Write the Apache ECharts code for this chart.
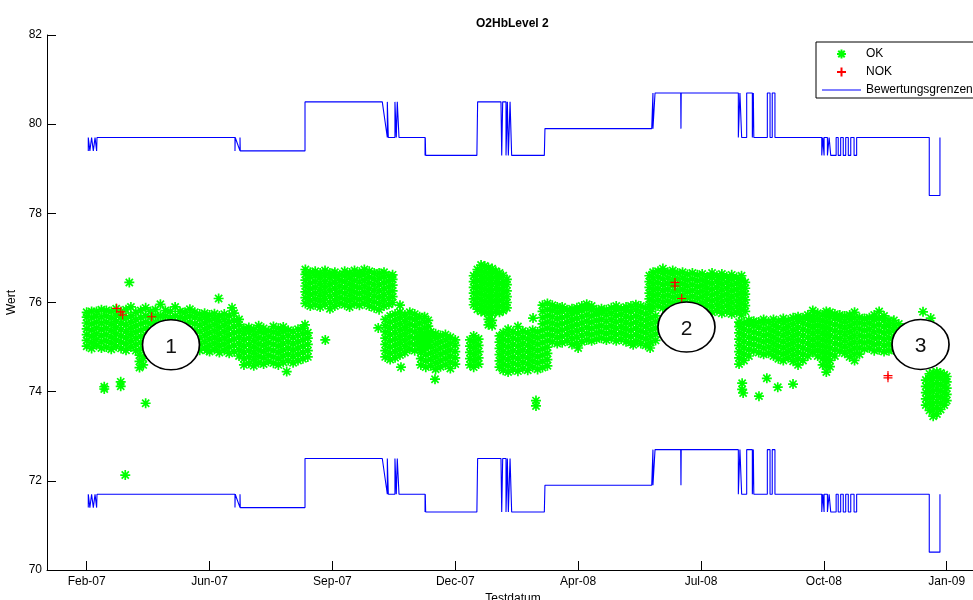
<!DOCTYPE html>
<html>
<head>
<meta charset="utf-8">
<script src="https://cdn.jsdelivr.net/npm/echarts@6/dist/echarts.min.js"></script>
<style>html,body{margin:0;padding:0;background:#fff}#c{width:973px;height:600px}</style>
</head>
<body>
<div id="c"></div>
<script>
// x values: day number minus 733000 (MATLAB datenum); ticks every 100 days
const FONT = '"Liberation Sans", Arial, Helvetica, sans-serif';
const tickDays = [100, 200, 300, 400, 500, 600, 700, 800];
const tickLabels = ['Feb-07', 'Jun-07', 'Sep-07', 'Dec-07', 'Apr-08', 'Jul-08', 'Oct-08', 'Jan-09'];
const xMin = 67.7, xMax = 821.4;
const yMin = 70, yMax = 82, yStep = 2;

// Bewertungsgrenzen (upper / lower limit), step lines
const limitDays = [101.3,101.3,102.6,102.6,104.0,104.0,105.4,105.4,106.8,106.8,108.1,108.1,108.4,108.4,
  156.2,193.0,220.7,220.7,220.9,224.8,224.8,225.0,277.7,277.7,
  340.6,344.7,344.7,345.5,345.5,350.9,350.9,352.0,352.0,352.8,352.8,354.2,354.2,
  375.4,375.4,375.6,375.9,417.6,418.2,
  437.2,437.8,438.6,438.6,441.3,441.3,442.4,442.4,443.2,443.2,444.6,444.6,445.9,445.9,
  472.5,473.0,559.9,560.9,560.9,562.0,562.6,583.5,583.7,583.9,
  630.4,630.4,631.7,631.7,633.1,633.1,637.2,637.2,641.8,641.8,642.6,642.6,643.0,643.0,654.0,654.0,656.2,656.2,658.0,658.0,660.2,660.2,
  698.3,698.3,699.1,700.2,700.2,702.9,702.9,704.3,704.3,705.6,705.6,710.0,710.0,711.7,711.7,713.7,713.7,715.8,715.8,717.8,717.8,719.9,719.9,721.9,721.9,724.6,724.6,726.7,726.7,
  785.8,785.8,794.5,794.5];
const upperLimit = [79.4,79.7,79.7,79.4,79.4,79.7,79.7,79.4,79.4,79.7,79.7,79.4,79.4,79.7,
  79.7,79.7,79.7,79.4,79.7,79.4,79.7,79.4,79.4,80.5,
  80.5,79.7,80.5,80.5,79.7,79.7,80.5,80.5,79.7,79.7,80.5,80.5,79.7,
  79.7,79.3,79.7,79.3,79.3,80.5,
  80.5,79.3,79.3,80.5,80.5,79.3,79.3,80.5,80.5,79.3,79.3,80.5,80.5,79.3,
  79.3,79.9,79.9,80.7,79.9,79.9,80.7,80.7,79.9,80.7,
  80.7,79.7,79.7,80.7,80.7,79.7,79.7,80.7,80.7,79.7,79.7,80.7,80.7,79.7,79.7,80.7,80.7,79.7,79.7,80.7,80.7,79.7,
  79.7,79.3,79.7,79.3,79.7,79.7,79.3,79.3,79.7,79.7,79.3,79.3,79.7,79.7,79.3,79.3,79.7,79.7,79.3,79.3,79.7,79.7,79.3,79.3,79.7,79.7,79.3,79.3,79.7,
  79.7,78.4,78.4,79.7];
const lowerLimit = [71.4,71.7,71.7,71.4,71.4,71.7,71.7,71.4,71.4,71.7,71.7,71.4,71.4,71.7,
  71.7,71.7,71.7,71.4,71.7,71.4,71.7,71.4,71.4,72.5,
  72.5,71.7,72.5,72.5,71.7,71.7,72.5,72.5,71.7,71.7,72.5,72.5,71.7,
  71.7,71.3,71.7,71.3,71.3,72.5,
  72.5,71.3,71.3,72.5,72.5,71.3,71.3,72.5,72.5,71.3,71.3,72.5,72.5,71.3,
  71.3,71.9,71.9,72.7,71.9,71.9,72.7,72.7,71.9,72.7,
  72.7,71.7,71.7,72.7,72.7,71.7,71.7,72.7,72.7,71.7,71.7,72.7,72.7,71.7,71.7,72.7,72.7,71.7,71.7,72.7,72.7,71.7,
  71.7,71.3,71.7,71.3,71.7,71.7,71.3,71.3,71.7,71.7,71.3,71.3,71.7,71.7,71.3,71.3,71.7,71.7,71.3,71.3,71.7,71.7,71.3,71.3,71.7,71.7,71.3,71.3,71.7,
  71.7,70.4,70.4,71.7];

// OK measurements, read column by column: [day, values...]
const okFeb07 = [
  [100,75.02,75.15,75.28,75.41,75.54,75.67,75.78],[104,74.97,75.1,75.24,75.38,75.52,75.66,75.8],
  [108,75.04,75.17,75.3,75.43,75.56,75.69,75.8],[112,74.98,75.12,75.26,75.4,75.54,75.68,75.84],
  [116,75.0,75.14,75.28,75.42,75.56,75.7,75.82],[120,74.95,75.09,75.23,75.37,75.51,75.65,75.8],
  [124,75.02,75.16,75.3,75.44,75.58,75.72,75.86],[128,74.97,75.11,75.25,75.39,75.53,75.67,75.8],
  [132,74.93,75.07,75.21,75.35,75.5,75.65,75.84],[136,75.0,75.14,75.28,75.42,75.56,75.7,75.9],
  [140,74.92,75.06,75.2,75.34,75.48,75.62,75.78],[144,74.96,75.1,75.24,75.38,75.52,75.66,75.82],
  [148,75.0,75.14,75.28,75.42,75.56,75.7,75.88],[152,74.97,75.11,75.25,75.39,75.53,75.67,75.8],
  [156,75.0,75.14,75.28,75.42,75.56,75.7,75.84],[160,74.95,75.1,75.25,75.4,75.55,75.7,75.96],
  [164,75.0,75.14,75.28,75.42,75.56,75.7,75.82],[168,74.96,75.1,75.24,75.38,75.52,75.66,75.8],
  [172,75.0,75.14,75.28,75.42,75.56,75.7,75.9],[176,74.97,75.11,75.25,75.39,75.53,75.67,75.8],
  [180,74.95,75.09,75.23,75.37,75.51,75.65,75.78],[184,75.0,75.14,75.28,75.42,75.56,75.7,75.85],
  [188,74.96,75.1,75.24,75.38,75.52,75.66,75.78],[192,74.93,75.07,75.21,75.35,75.49,75.63,75.74],
  [196,74.98,75.12,75.26,75.4,75.54,75.66,75.76],[200,74.9,75.04,75.18,75.32,75.46,75.6,75.72],
  [204,74.95,75.09,75.23,75.37,75.51,75.64,75.75],[208,74.88,75.02,75.16,75.3,75.44,75.58,75.7],
  [212,74.93,75.07,75.21,75.35,75.49,75.62,75.74],[216,74.86,75.0,75.14,75.28,75.42,75.56,75.7],
  [220,74.9,75.04,75.18,75.32,75.46,75.6,75.76],[224,74.8,74.94,75.08,75.22,75.36,75.5,75.62]
];
const okJun07 = [
  [228,74.6,74.74,74.88,75.02,75.16,75.3,75.42],[232,74.64,74.78,74.92,75.06,75.2,75.34,75.44],
  [236,74.58,74.72,74.86,75.0,75.14,75.28,75.4],[240,74.65,74.79,74.93,75.07,75.21,75.35,75.48],
  [244,74.62,74.76,74.9,75.04,75.18,75.32,75.42],[248,74.68,74.82,74.96,75.1,75.24,75.36],
  [252,74.64,74.78,74.92,75.06,75.2,75.34,75.46],[256,74.6,74.74,74.88,75.02,75.16,75.3,75.42],
  [260,74.66,74.8,74.94,75.08,75.22,75.36,75.45],[264,74.7,74.84,74.98,75.12,75.26,75.38],
  [268,74.65,74.79,74.93,75.07,75.21,75.35],[272,74.7,74.84,74.98,75.12,75.26,75.4],
  [276,74.74,74.88,75.02,75.16,75.3,75.42],[280,74.78,74.92,75.06,75.2,75.32]
];
const okSep07 = [
  [278,75.98,76.11,76.24,76.37,76.5,76.63,76.74],[282,75.92,76.05,76.18,76.31,76.44,76.57,76.68],
  [286,75.95,76.08,76.21,76.34,76.47,76.6,76.7],[290,75.9,76.03,76.16,76.29,76.42,76.55,76.66],
  [294,75.96,76.09,76.22,76.35,76.48,76.61,76.72],[298,75.86,76.0,76.14,76.28,76.42,76.56,76.66],
  [302,75.92,76.05,76.18,76.31,76.44,76.57,76.68],[306,75.98,76.11,76.24,76.37,76.5,76.62],
  [310,75.95,76.08,76.21,76.34,76.47,76.6,76.7],[314,75.9,76.03,76.16,76.29,76.42,76.55,76.66],
  [318,75.97,76.1,76.23,76.36,76.49,76.62,76.72],[322,75.94,76.07,76.2,76.33,76.46,76.59,76.68],
  [326,75.98,76.11,76.24,76.37,76.5,76.63,76.74],[330,75.92,76.05,76.18,76.31,76.44,76.57,76.7],
  [334,75.88,76.01,76.14,76.27,76.4,76.53,76.66],[338,75.84,75.98,76.12,76.26,76.4,76.54,76.66],
  [342,75.92,76.05,76.18,76.31,76.44,76.57,76.68],[346,75.96,76.09,76.22,76.35,76.48,76.6],
  [349,76.0,76.13,76.26,76.39,76.52,76.62]
];
const okOct07 = [
  [343,74.78,74.92,75.06,75.2,75.34,75.48,75.62],[347,74.72,74.86,75.0,75.14,75.28,75.42,75.56,75.7],
  [351,74.76,74.9,75.04,75.18,75.32,75.46,75.6,75.74],[355,74.82,74.96,75.1,75.24,75.38,75.52,75.66,75.78],
  [359,74.88,75.02,75.16,75.3,75.44,75.58,75.72],[363,74.95,75.09,75.23,75.37,75.51,75.65,75.78],
  [367,74.92,75.06,75.2,75.34,75.48,75.62,75.74],[371,74.98,75.12,75.26,75.4,75.54,75.68],
  [375,75.0,75.14,75.28,75.42,75.56,75.68],[378,75.05,75.19,75.33,75.47,75.6]
];
const okNov07 = [
  [372,74.6,74.74,74.88,75.02,75.16,75.28],[376,74.55,74.69,74.83,74.97,75.11,75.25],
  [380,74.58,74.72,74.86,75.0,75.14,75.28,75.34],[384,74.5,74.64,74.78,74.92,75.06,75.2,75.3],
  [388,74.56,74.7,74.84,74.98,75.12,75.26],[392,74.6,74.74,74.88,75.02,75.16,75.28],
  [396,74.52,74.66,74.8,74.94,75.08,75.22],[400,74.62,74.76,74.9,75.04,75.16],
  [412,74.6,74.74,74.88,75.02,75.16],[415,74.55,74.69,74.83,74.97,75.11,75.25],
  [419,74.62,74.76,74.9,75.04,75.18]
];
const okJan08 = [
  [415,75.95,76.08,76.21,76.34,76.47,76.6],[418,75.85,75.98,76.11,76.24,76.37,76.5,76.63,76.74],
  [421,75.8,75.93,76.06,76.19,76.32,76.45,76.58,76.71,76.84],[424,75.78,75.91,76.04,76.17,76.3,76.43,76.56,76.69,76.82],
  [427,75.5,75.62,75.76,75.89,76.02,76.15,76.28,76.41,76.54,76.67,76.78],[430,75.48,75.6,75.75,75.88,76.01,76.14,76.27,76.4,76.53,76.66,76.76],
  [433,75.8,75.93,76.06,76.19,76.32,76.45,76.58,76.7],[436,75.78,75.91,76.04,76.17,76.3,76.43,76.56,76.66],
  [439,75.82,75.95,76.08,76.21,76.34,76.47,76.6],[442,75.88,76.0,76.13,76.26,76.4,76.52]
];
const okFeb08 = [
  [436,74.55,74.69,74.83,74.97,75.11,75.25],[439,74.48,74.62,74.76,74.9,75.04,75.18,75.32],
  [443,74.44,74.58,74.72,74.86,75.0,75.14,75.28,75.4],[447,74.5,74.64,74.78,74.92,75.06,75.2,75.34],
  [451,74.46,74.6,74.74,74.88,75.02,75.16,75.3,75.46],[455,74.52,74.66,74.8,74.94,75.08,75.22,75.36],
  [459,74.48,74.62,74.76,74.9,75.04,75.18,75.32],[463,74.55,74.69,74.83,74.97,75.11,75.25,75.38],
  [467,74.5,74.64,74.78,74.92,75.06,75.2,75.34],[471,74.54,74.68,74.82,74.96,75.1,75.24,75.38,75.52,75.66,75.8,75.94],
  [475,74.58,74.72,74.86,75.0,75.14,75.28,75.42,75.56,75.7,75.84,75.98]
];
const okApr08 = [
  [479,75.12,75.26,75.4,75.54,75.68,75.82,75.94],[483,75.08,75.22,75.36,75.5,75.64,75.78,75.9],
  [487,75.1,75.24,75.38,75.52,75.66,75.8,75.9],[491,75.14,75.28,75.42,75.56,75.7,75.84],
  [495,75.06,75.2,75.34,75.48,75.62,75.76,75.86],[499,75.08,75.22,75.36,75.5,75.64,75.78,75.88],
  [503,75.12,75.26,75.4,75.54,75.68,75.82,75.92],[507,75.16,75.3,75.44,75.58,75.72,75.86,75.96],
  [511,75.14,75.28,75.42,75.56,75.7,75.84,75.92],[515,75.18,75.32,75.46,75.6,75.74,75.84],
  [519,75.2,75.34,75.48,75.62,75.76,75.86],[523,75.16,75.3,75.44,75.58,75.72,75.84],
  [527,75.2,75.34,75.48,75.62,75.76,75.88],[531,75.14,75.28,75.42,75.56,75.7,75.84,75.92],
  [535,75.18,75.32,75.46,75.6,75.74,75.86],[539,75.12,75.26,75.4,75.54,75.68,75.82,75.9],
  [543,75.1,75.24,75.38,75.52,75.66,75.8,75.92],[547,75.14,75.28,75.42,75.56,75.7,75.84,75.95],
  [551,75.08,75.22,75.36,75.5,75.64,75.78,75.92],[555,75.04,75.18,75.32,75.46,75.6,75.74,75.88],
  [559,75.1,75.24,75.38,75.52,75.66,75.8],[563,75.15,75.29,75.43,75.57,75.7]
];
const okJun08 = [
  [558,75.95,76.08,76.21,76.34,76.47,76.6],[561,75.9,76.03,76.16,76.29,76.42,76.55,76.68],
  [565,75.92,76.05,76.18,76.31,76.44,76.57,76.7],[569,75.88,76.01,76.14,76.27,76.4,76.53,76.66,76.76],
  [573,75.9,76.03,76.16,76.29,76.42,76.55,76.68],[577,75.86,75.99,76.12,76.25,76.38,76.51,76.64,76.72],
  [581,75.88,76.01,76.14,76.27,76.4,76.53,76.66],[585,75.9,76.03,76.16,76.29,76.42,76.55,76.68],
  [589,75.85,75.98,76.11,76.24,76.37,76.5,76.63],[593,75.88,76.01,76.14,76.27,76.4,76.53,76.66],
  [597,75.84,75.97,76.1,76.23,76.36,76.49,76.62],[601,75.86,75.99,76.12,76.25,76.38,76.51,76.64],
  [605,75.8,75.93,76.06,76.19,76.32,76.45,76.58],[609,75.78,75.91,76.04,76.17,76.3,76.43,76.56,76.66],
  [613,75.82,75.95,76.08,76.21,76.34,76.47,76.6],[617,75.76,75.89,76.02,76.15,76.28,76.41,76.54,76.64],
  [621,75.8,75.93,76.06,76.19,76.32,76.45,76.58],[625,75.74,75.87,76.0,76.13,76.26,76.39,76.52,76.62],
  [629,75.78,75.91,76.04,76.17,76.3,76.43,76.56],[633,75.72,75.85,75.98,76.11,76.24,76.37,76.5,76.6],
  [636,75.8,75.93,76.06,76.19,76.32,76.45]
];
const okAug08 = [
  [631,74.62,74.76,74.9,75.04,75.18,75.32,75.46,75.56],[635,74.7,74.84,74.98,75.12,75.26,75.4,75.54],
  [639,74.8,74.94,75.08,75.22,75.36,75.5,75.6],[643,74.92,75.06,75.2,75.34,75.48,75.58],
  [647,74.88,75.02,75.16,75.3,75.44,75.56],[651,74.84,74.98,75.12,75.26,75.4,75.54,75.62],
  [655,74.86,75.0,75.14,75.28,75.42,75.56],[659,74.8,74.94,75.08,75.22,75.36,75.5,75.62],
  [663,74.74,74.88,75.02,75.16,75.3,75.44,75.58],[667,74.7,74.84,74.98,75.12,75.26,75.4,75.54,75.64],
  [671,74.76,74.9,75.04,75.18,75.32,75.46,75.6],[675,74.68,74.82,74.96,75.1,75.24,75.38,75.52,75.66],
  [679,74.6,74.74,74.88,75.02,75.16,75.3,75.44,75.58,75.68],[683,74.7,74.84,74.98,75.12,75.26,75.4,75.54,75.66],
  [687,74.8,74.94,75.08,75.22,75.36,75.5,75.64,75.72],[691,74.88,75.02,75.16,75.3,75.44,75.58,75.7,75.82],
  [695,74.8,74.94,75.08,75.22,75.36,75.5,75.64,75.76],[699,74.6,74.74,74.88,75.02,75.16,75.3,75.44,75.58,75.72],
  [702,74.44,74.58,74.72,74.86,75.0,75.14,75.28,75.42,75.56,75.7,75.8],[705,74.56,74.7,74.84,74.98,75.12,75.26,75.4,75.54,75.68,75.78],
  [709,74.8,74.94,75.08,75.22,75.36,75.5,75.64,75.74],[713,74.92,75.06,75.2,75.34,75.48,75.62,75.72],
  [717,74.86,75.0,75.14,75.28,75.42,75.56,75.7],[721,74.78,74.92,75.06,75.2,75.34,75.48,75.62,75.72],
  [725,74.7,74.84,74.98,75.12,75.26,75.4,75.54,75.66,75.78],[729,74.84,74.98,75.12,75.26,75.4,75.54,75.66],
  [733,74.96,75.1,75.24,75.38,75.52,75.64],[737,74.98,75.12,75.26,75.4,75.54,75.66],
  [741,74.92,75.06,75.2,75.34,75.48,75.62,75.72],[745,74.94,75.08,75.22,75.36,75.5,75.64,75.8],
  [749,74.9,75.04,75.18,75.32,75.46,75.6,75.7],[753,74.92,75.06,75.2,75.34,75.48,75.6],
  [757,74.94,75.08,75.22,75.36,75.48,75.6],[761,74.98,75.12,75.26,75.4,75.52],
  [764,75.0,75.14,75.28,75.4]
];
const okDec08 = [
  [783,73.7,73.84,73.98,74.12,74.26],[786,73.58,73.72,73.86,74.0,74.14,74.28,74.4],
  [789,73.45,73.59,73.73,73.87,74.01,74.15,74.29,74.42],[792,73.5,73.64,73.78,73.92,74.06,74.2,74.34,74.44],
  [795,73.6,73.74,73.88,74.02,74.16,74.3,74.42],[798,73.7,73.84,73.98,74.12,74.26,74.38],
  [800,73.8,73.94,74.08,74.22,74.34]
];
// isolated OK points
const okSingleDays = [114.3,114.3,127.7,127.7,148,134.7,131.4,143,143,143,146,146,197.9,207.4,218.3,262.8,277.7,294.2,
  337.3,355,355.8,383.5,465.7,465.7,463.3,500,544.8,558.6,633.5,633.5,634.3,647.2,653.6,662.5,674.9,780.7,787];
const okSingleVals = [74.11,74.06,74.22,74.12,73.74,76.45,72.13,74.82,74.68,74.54,74.75,74.6,74.93,76.09,75.88,74.45,75.5,75.16,
  75.43,75.94,74.55,74.28,73.8,73.68,75.65,74.98,75.05,74.98,74.19,74.05,73.97,73.9,74.3,74.1,74.17,75.79,75.65];

// NOK points
const nokDays = [124.4, 127.7, 129.3, 152.9, 578.8, 578.8, 584.3, 752.2, 752.2];
const nokVals = [75.87, 75.79, 75.72, 75.68, 76.45, 76.37, 76.09, 74.36, 74.31];

// circled annotations
const noteDays = [168.6, 588.2, 778.7];
const noteVals = [75.05, 75.45, 75.06];
const noteLabels = ['1', '2', '3'];

function columnsToPoints(cols) {
  const out = [];
  cols.forEach(c => { for (let i = 1; i < c.length; i++) out.push([c[0], c[i]]); });
  return out;
}
const okPoints = [okFeb07, okJun07, okSep07, okOct07, okNov07, okJan08, okFeb08, okApr08, okJun08, okAug08, okDec08]
  .reduce((acc, cols) => acc.concat(columnsToPoints(cols)), [])
  .concat(okSingleDays.map((d, i) => [d, okSingleVals[i]]));
const nokPoints = nokDays.map((d, i) => [d, nokVals[i]]);
const upperPoints = limitDays.map((d, i) => [d, upperLimit[i]]);
const lowerPoints = limitDays.map((d, i) => [d, lowerLimit[i]]);
const notePoints = noteDays.map((d, i) => [d, noteVals[i]]);

const STAR = 'path://M0,-5L0,5M-5,0L5,0M-3.6,-3.6L3.6,3.6M-3.6,3.6L3.6,-3.6';
const PLUS = 'path://M0,-5L0,5M-5,0L5,0';
const ELLIPSE = 'path://M0,-1C0.552,-1,1,-0.552,1,0C1,0.552,0.552,1,0,1C-0.552,1,-1,0.552,-1,0C-1,-0.552,-0.552,-1,0,-1Z';
const LINE_ICON = 'path://M0,0L39,0L39,1.2L0,1.2Z';

const chart = echarts.init(document.getElementById('c'), null, { renderer: 'canvas' });
chart.setOption({
  animation: false,
  backgroundColor: '#fff',
  textStyle: { fontFamily: FONT },
  title: {
    text: 'O2HbLevel 2', left: 471, top: 13,
    textStyle: { fontSize: 12, fontWeight: 'bold', color: '#000', fontFamily: FONT }
  },
  legend: {
    data: [
      { name: 'OK' },
      { name: 'NOK' },
      { name: 'Bewertungsgrenzen', icon: LINE_ICON, itemStyle: { color: '#0000ff', borderWidth: 0 } }
    ],
    orient: 'vertical', left: 816, top: 42,
    itemWidth: 39, itemHeight: 9, itemGap: 6,
    padding: [6, 12, 2, 6],
    backgroundColor: '#fff', borderColor: '#000', borderWidth: 1,
    textStyle: { fontSize: 12, color: '#000', fontFamily: FONT }
  },
  grid: { left: 47, right: 0, top: 35, bottom: 30, containLabel: false, outerBoundsMode: 'none' },
  xAxis: {
    type: 'value', min: xMin, max: xMax,
    name: 'Testdatum', nameLocation: 'middle', nameGap: 21,
    nameTextStyle: { fontSize: 12, color: '#000', fontFamily: FONT, padding: [0, 0, 0, 6] },
    axisLine: { show: true, onZero: false, lineStyle: { color: '#000', width: 1 } },
    axisTick: { show: true, inside: true, length: 9, customValues: tickDays, lineStyle: { color: '#000' } },
    axisLabel: {
      show: true, margin: 6, fontSize: 12, color: '#000', fontFamily: FONT,
      customValues: tickDays,
      formatter: v => { const i = tickDays.indexOf(Math.round(v)); return i >= 0 ? tickLabels[i] : ''; }
    },
    splitLine: { show: false }
  },
  yAxis: {
    type: 'value', min: yMin, max: yMax, interval: yStep,
    name: 'Wert', nameLocation: 'middle', nameGap: 23, nameRotate: 90,
    nameTextStyle: { fontSize: 12, color: '#000', fontFamily: FONT },
    axisLine: { show: true, lineStyle: { color: '#000', width: 1 } },
    axisTick: { show: true, inside: true, length: 9, lineStyle: { color: '#000' } },
    axisLabel: { margin: 5, fontSize: 12, color: '#000', fontFamily: FONT },
    splitLine: { show: false }
  },
  series: [
    {
      name: 'OK', type: 'scatter', data: okPoints, symbol: STAR, symbolSize: 10,
      itemStyle: { color: '#00ff00', borderColor: '#00ff00', borderWidth: 1.7, opacity: 1 },
      silent: true, z: 2
    },
    {
      name: 'NOK', type: 'scatter', data: nokPoints, symbol: PLUS, symbolSize: 9,
      itemStyle: { color: '#ff0000', borderColor: '#ff0000', borderWidth: 1.2, opacity: 1 },
      silent: true, z: 3
    },
    {
      name: 'Bewertungsgrenzen', type: 'line', data: upperPoints, symbol: 'none',
      lineStyle: { color: '#0000ff', width: 1.1 }, itemStyle: { color: '#0000ff' }, silent: true, z: 3
    },
    {
      name: 'Bewertungsgrenzen', type: 'line', data: lowerPoints, symbol: 'none',
      lineStyle: { color: '#0000ff', width: 1.1 }, itemStyle: { color: '#0000ff' }, silent: true, z: 3
    },
    {
      name: 'Hinweise', type: 'scatter', data: notePoints, symbol: ELLIPSE, symbolSize: [57, 50],
      itemStyle: { color: '#ffffff', borderColor: '#000', borderWidth: 1.6, opacity: 1 },
      label: {
        show: true, position: 'inside', offset: [0, 2],
        formatter: p => noteLabels[p.dataIndex],
        fontSize: 21, color: '#111', fontFamily: FONT
      },
      silent: true, z: 5
    }
  ]
});
</script>
</body>
</html>
